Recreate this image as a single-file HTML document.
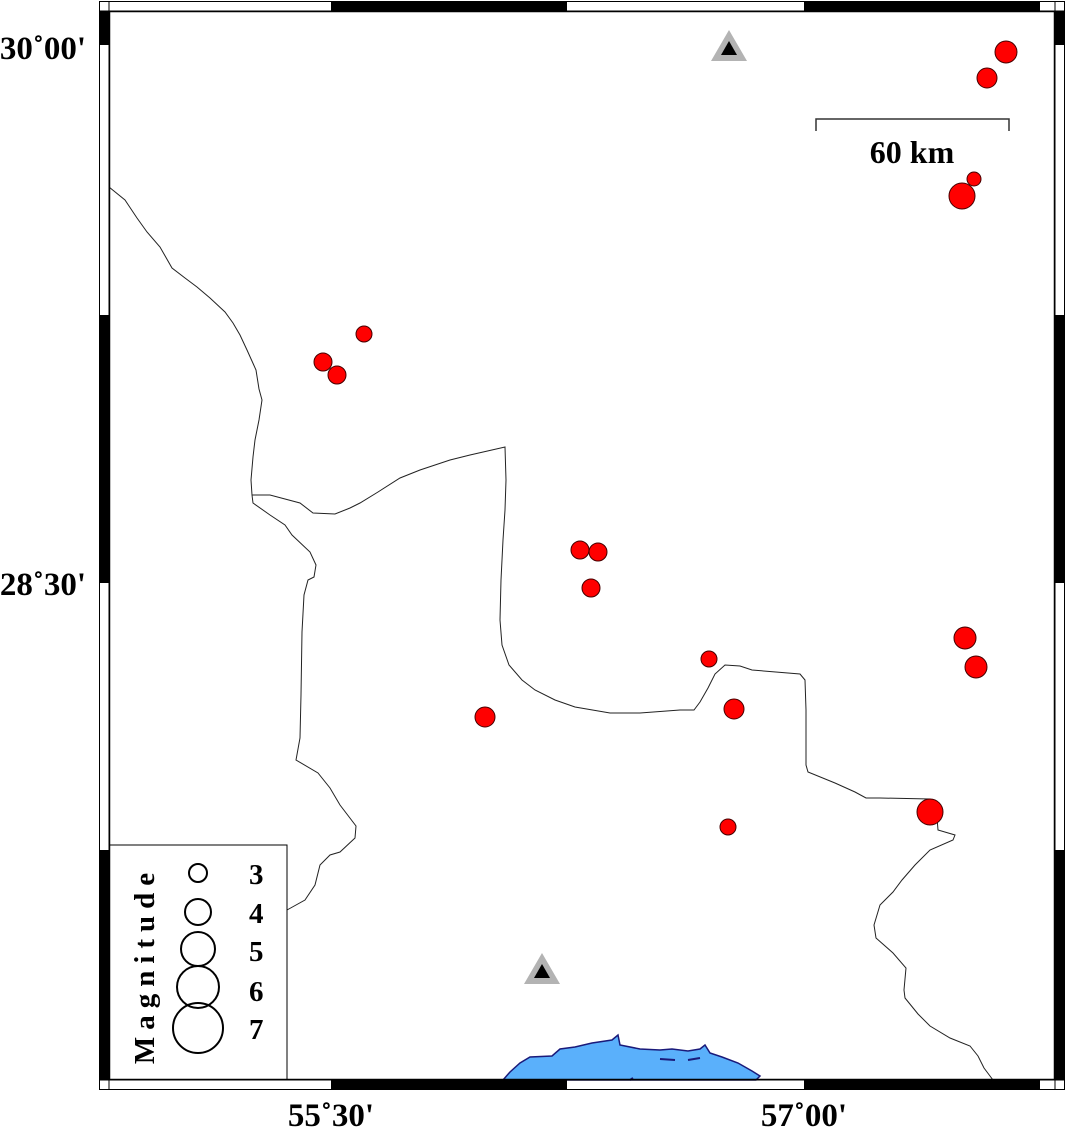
<!DOCTYPE html>
<html><head><meta charset="utf-8"><style>
html,body{margin:0;padding:0;background:#fff;}
svg{display:block;}
text{font-family:"Liberation Serif",serif;font-weight:bold;fill:#000;}
</style></head><body>
<svg width="1066" height="1130" viewBox="0 0 1066 1130" xmlns="http://www.w3.org/2000/svg">
<rect width="1066" height="1130" fill="#fff"/>
<!-- water -->
<path d="M503,1080 L510,1072 L520,1063 L530,1057 L552,1056 L560,1049 L575,1047 L592,1043 L612,1040 L618,1035 L620,1045 L640,1049 L660,1050 L672,1049 L688,1051 L700,1049 L705,1045 L710,1053 L722,1057 L738,1063 L752,1071 L760,1076 L756,1080 Z" fill="#5ab0fb" stroke="#1a1a7a" stroke-width="1.5"/>
<path d="M660,1059 L675,1060 M688,1060 L700,1058 M630,1080 L633,1078" stroke="#1a1a7a" stroke-width="2" fill="none"/>
<!-- borders -->
<polyline fill="none" stroke="#222" stroke-width="1" points="109,187 125,200 137,218 147,232 160,247 172,268 185,278 197,287 210,298 225,312 233,323 240,335 247,350 256,370 259,389 262,400 259,420 255,440 253,457 251,480 252,495 253,503 270,515 285,525 292,535 310,552 316,565 314,577 308,580 304,595 302,632 301,695 300,738 296,760 318,773 330,788 340,805 356,826 355,838 340,852 330,855 320,865 315,885 305,900 287,910"/>
<polyline fill="none" stroke="#222" stroke-width="1" points="252,495 270,495 300,503 313,513 335,514 350,508 360,503 378,492 400,478 420,470 450,460 470,455 505,447 506,480 505,510 503,540 501,580 500,620 502,645 509,665 522,680 535,690 555,700 575,707 610,713 640,713 680,710 694,710 700,702 708,688 715,674 725,665 740,666 752,670 800,674 805,680 806,710 806,765 808,772 835,783 855,792 866,798 880,798 930,799 936,805 938,830 955,835 953,840 930,850 915,865 902,880 893,892 880,905 874,925 876,938 893,953 906,968 904,990 905,998 918,1014 930,1026 950,1038 970,1046 978,1056 984,1068 993,1080"/>
<!-- events -->
<g fill="#ff0000" stroke="#400" stroke-width="1">
<circle cx="1006" cy="52" r="11"/>
<circle cx="987" cy="78" r="10"/>
<circle cx="974" cy="179" r="7"/>
<circle cx="962" cy="196" r="13"/>
<circle cx="364" cy="334" r="8"/>
<circle cx="323" cy="362" r="9"/>
<circle cx="337" cy="375" r="9"/>
<circle cx="580" cy="550" r="9"/>
<circle cx="598" cy="552" r="9"/>
<circle cx="591" cy="588" r="9"/>
<circle cx="709" cy="659" r="8"/>
<circle cx="734" cy="709" r="10"/>
<circle cx="485" cy="717" r="10"/>
<circle cx="965" cy="638" r="11"/>
<circle cx="976" cy="667" r="11"/>
<circle cx="930" cy="812" r="13"/>
<circle cx="728" cy="827" r="8"/>
<circle cx="212" cy="853" r="8"/>
</g>
<!-- stations -->
<polygon points="729,30 747,61 711,61" fill="#b3b3b3"/>
<polygon points="729,41 737,55 721,55" fill="#000"/>
<polygon points="542,953 560,984 524,984" fill="#b3b3b3"/>
<polygon points="542,964 550,978 534,978" fill="#000"/>
<!-- scale bar -->
<polyline points="816,131 816,119 1009,119 1009,131" fill="none" stroke="#333" stroke-width="1.5"/>
<text x="912" y="163" font-size="32" text-anchor="middle">60 km</text>
<!-- legend -->
<rect x="109" y="845" width="178" height="235" fill="#fff" stroke="#000" stroke-width="1"/>
<g fill="none" stroke="#000" stroke-width="2">
<circle cx="198" cy="873" r="9"/>
<circle cx="198" cy="912" r="13"/>
<circle cx="198" cy="949" r="17"/>
<circle cx="198" cy="987" r="21"/>
<circle cx="198" cy="1028" r="25"/>
</g>
<g font-size="29">
<text x="249" y="884">3</text>
<text x="249" y="923">4</text>
<text x="249" y="961">5</text>
<text x="249" y="1001">6</text>
<text x="249" y="1039">7</text>
</g>
<text transform="translate(154,965) rotate(-90)" font-size="29" text-anchor="middle" letter-spacing="7">Magnitude</text>
<!-- frame -->
<rect x="99.5" y="1.5" width="965" height="1088" fill="none" stroke="#000" stroke-width="1"/>
<rect x="109.5" y="11.5" width="945" height="1068" fill="none" stroke="#000" stroke-width="1.5"/>
<g fill="#000">
<rect x="331" y="1" width="236" height="10"/>
<rect x="804" y="1" width="236" height="10"/>
<rect x="331" y="1080" width="236" height="10"/>
<rect x="804" y="1080" width="236" height="10"/>
<rect x="99" y="11" width="10" height="34"/>
<rect x="99" y="315" width="10" height="268"/>
<rect x="99" y="850" width="10" height="230"/>
<rect x="1055" y="11" width="10" height="34"/>
<rect x="1055" y="315" width="10" height="268"/>
<rect x="1055" y="850" width="10" height="230"/>
</g>
<line x1="99" y1="11" x2="1065" y2="11" stroke="#000" stroke-width="1"/>
<line x1="99" y1="1080" x2="1065" y2="1080" stroke="#000" stroke-width="1"/>
<line x1="109" y1="1" x2="109" y2="1090" stroke="#000" stroke-width="1"/>
<line x1="1055" y1="1" x2="1055" y2="1090" stroke="#000" stroke-width="1"/>
<!-- axis labels -->
<g font-size="33">
<text x="86" y="59" text-anchor="end">30˚00'</text>
<text x="86" y="595" text-anchor="end">28˚30'</text>
<text x="331" y="1126" text-anchor="middle">55˚30'</text>
<text x="804" y="1126" text-anchor="middle">57˚00'</text>
</g>
</svg>
</body></html>
